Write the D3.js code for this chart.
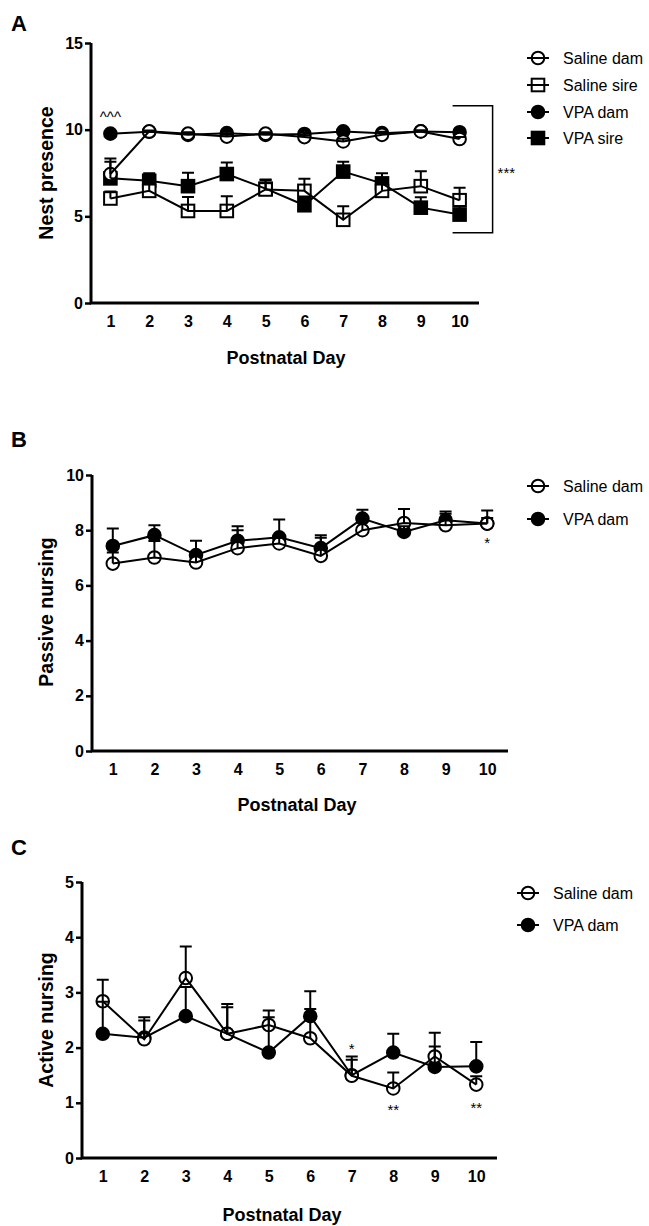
<!DOCTYPE html>
<html>
<head>
<meta charset="utf-8">
<script src="https://cdn.jsdelivr.net/npm/d3@7"></script>
<style>
body { margin: 0; background: #fff; }
text { font-family: Arial, "Liberation Sans", sans-serif; fill: #000; }
</style>
</head>
<body>
<svg id="chart" width="649" height="1226"></svg>
<script>
// ---- data (means and upward SEM) ----
const days = [1, 2, 3, 4, 5, 6, 7, 8, 9, 10];

// A: nest presence
const nestSalineDam     = [7.44, 9.90, 9.77, 9.60, 9.77, 9.57, 9.32, 9.70, 9.90, 9.46];
const nestSalineDamErr  = [0.90, 0.05, 0.08, 0.10, 0.08, 0.10, 0.15, 0.10, 0.05, 0.12];
const nestSalineSire    = [6.03, 6.47, 5.31, 5.31, 6.55, 6.47, 4.80, 6.47, 6.74, 5.93];
const nestSalineSireErr = [0.40, 0.60, 0.80, 0.85, 0.58, 0.70, 0.78, 0.50, 0.86, 0.72];
const nestVpaDam        = [9.77, 9.88, 9.70, 9.80, 9.70, 9.75, 9.90, 9.80, 9.90, 9.85];
const nestVpaDamErr     = [0.08, 0.05, 0.10, 0.08, 0.10, 0.08, 0.05, 0.08, 0.05, 0.06];
const nestVpaSire       = [7.19, 7.05, 6.74, 7.44, 6.60, 5.64, 7.58, 6.90, 5.50, 5.10];
const nestVpaSireErr    = [0.96, 0.43, 0.78, 0.66, 0.50, 0.50, 0.57, 0.58, 0.60, 0.50];

// B: passive nursing
const passSalineDam    = [6.79, 7.01, 6.83, 7.35, 7.52, 7.07, 8.00, 8.26, 8.18, 8.24];
const passSalineDamErr = [0.40, 0.60, 0.30, 0.65, 0.20, 0.66, 0.30, 0.51, 0.42, 0.47];
const passVpaDam       = [7.43, 7.82, 7.10, 7.62, 7.74, 7.35, 8.42, 7.94, 8.36, 8.24];
const passVpaDamErr    = [0.63, 0.36, 0.52, 0.52, 0.65, 0.47, 0.32, 0.20, 0.32, 0.20];

// C: active nursing
const actSalineDam    = [2.84, 2.15, 3.26, 2.25, 2.41, 2.17, 1.49, 1.26, 1.84, 1.33];
const actSalineDamErr = [0.39, 0.40, 0.57, 0.54, 0.26, 0.53, 0.35, 0.29, 0.43, 0.15];
const actVpaDam       = [2.25, 2.18, 2.57, 2.25, 1.91, 2.57, 1.50, 1.91, 1.65, 1.66];
const actVpaDamErr    = [0.58, 0.31, 0.53, 0.48, 0.64, 0.45, 0.28, 0.34, 0.37, 0.44];

// tick values
const nestTicks = [0, 5, 10, 15];
const passTicks = [0, 2, 4, 6, 8, 10];
const actTicks  = [0, 1, 2, 3, 4, 5];

// significance marks (day, value at text baseline)
const nestMarks = [{ day: 1, value: 10.45, text: '^^^' }];
const passMarks = [{ day: 10, value: 7.36, text: '*' }];
const actMarks  = [
	{ day: 7, value: 1.88, text: '*' },
	{ day: 8, value: 0.78, text: '**' },
	{ day: 10, value: 0.815, text: '**' }
];
const nestBracket = { from: 11.38, to: 4.06, text: '***' };

// series definitions
const salineDam  = { name: 'Saline dam', shape: 'circle', filled: false };
const salineSire = { name: 'Saline sire', shape: 'square', filled: false };
const vpaDam     = { name: 'VPA dam', shape: 'circle', filled: true };
const vpaSire    = { name: 'VPA sire', shape: 'square', filled: true };

const svg = d3.select('#chart');

const panels = [
	{
		letter: 'A', letterY: 31,
		left: 91, right: 479, top: 43, bottom: 303, ymax: 15, yticks: nestTicks,
		ytitle: 'Nest presence', ytitleY: 173,
		xtitleX: 286, xtitleY: 364,
		legendX: 538, legendY: [58, 85, 112, 138],
		series: [
			Object.assign({ values: nestSalineDam, errs: nestSalineDamErr }, salineDam),
			Object.assign({ values: nestSalineSire, errs: nestSalineSireErr }, salineSire),
			Object.assign({ values: nestVpaDam, errs: nestVpaDamErr }, vpaDam),
			Object.assign({ values: nestVpaSire, errs: nestVpaSireErr }, vpaSire)
		],
		marks: nestMarks, bracket: nestBracket
	},
	{
		letter: 'B', letterY: 447,
		left: 92, right: 508, top: 475, bottom: 751, ymax: 10, yticks: passTicks,
		ytitle: 'Passive nursing', ytitleY: 612,
		xtitleX: 297, xtitleY: 811,
		legendX: 538, legendY: [486, 519],
		series: [
			Object.assign({ values: passSalineDam, errs: passSalineDamErr }, salineDam),
			Object.assign({ values: passVpaDam, errs: passVpaDamErr }, vpaDam)
		],
		marks: passMarks
	},
	{
		letter: 'C', letterY: 855,
		left: 82, right: 497, top: 882, bottom: 1158, ymax: 5, yticks: actTicks,
		ytitle: 'Active nursing', ytitleY: 1020,
		xtitleX: 282, xtitleY: 1221,
		legendX: 528, legendY: [893, 925],
		series: [
			Object.assign({ values: actSalineDam, errs: actSalineDamErr }, salineDam),
			Object.assign({ values: actVpaDam, errs: actVpaDamErr }, vpaDam)
		],
		marks: actMarks
	}
];

const R = 6.3; // marker half size

function drawMarker(sel, s) {
	let m;
	if (s.shape === 'circle') {
		m = sel.append('circle').attr('r', R);
	} else {
		m = sel.append('rect')
			.attr('x', -R).attr('y', -R)
			.attr('width', 2 * R).attr('height', 2 * R);
	}
	m.attr('fill', s.filled ? '#000' : '#fff')
		.attr('stroke', '#000')
		.attr('stroke-width', 2);
}

function drawPanel(p) {
	const g = svg.append('g');

	const xScale = d3.scaleLinear().domain([0.5, 10.5]).range([p.left, p.right]);
	const yScale = d3.scaleLinear().domain([0, p.ymax]).range([p.bottom, p.top]);

	// panel letter
	g.append('text')
		.attr('x', 11).attr('y', p.letterY)
		.style('font-size', '22px').style('font-weight', 'bold')
		.text(p.letter);

	// y axis ticks + labels
	const yAxis = d3.axisLeft(yScale)
		.tickValues(p.yticks)
		.tickSize(6)
		.tickPadding(2)
		.tickFormat(d3.format('d'));
	const yg = g.append('g')
		.attr('transform', `translate(${p.left},0)`)
		.call(yAxis);
	yg.select('.domain').remove();
	yg.selectAll('.tick line').attr('stroke', '#000').attr('stroke-width', 2.5);
	yg.selectAll('.tick text')
		.style('font-size', '16px').style('font-weight', 'bold')
		.style('font-family', 'Arial, "Liberation Sans", sans-serif')
		.attr('fill', '#000');

	// x axis labels (no tick marks)
	const xAxis = d3.axisBottom(xScale)
		.tickValues(days)
		.tickSize(0)
		.tickPadding(13)
		.tickFormat(d3.format('d'));
	const xg = g.append('g')
		.attr('transform', `translate(0,${p.bottom})`)
		.call(xAxis);
	xg.select('.domain').remove();
	xg.selectAll('.tick text')
		.style('font-size', '16px').style('font-weight', 'bold')
		.style('font-family', 'Arial, "Liberation Sans", sans-serif')
		.attr('fill', '#000');

	// axis lines
	g.append('path')
		.attr('d', `M${p.left},${yScale(p.ymax)}V${p.bottom}H${p.right}`)
		.attr('fill', 'none').attr('stroke', '#000').attr('stroke-width', 3)
		.attr('stroke-linejoin', 'miter');

	// titles
	g.append('text')
		.attr('transform', `translate(53,${p.ytitleY}) rotate(-90)`)
		.style('text-anchor', 'middle')
		.style('font-size', '19.5px').style('font-weight', 'bold')
		.text(p.ytitle);

	g.append('text')
		.attr('x', p.xtitleX).attr('y', p.xtitleY)
		.style('text-anchor', 'middle')
		.style('font-size', '18px').style('font-weight', 'bold')
		.text(p.xtitle || 'Postnatal Day');

	// markers first (last series at the back), lines and error bars on top
	const markLayer = g.append('g');
	const lineLayer = g.append('g');

	p.series.slice().reverse().forEach((s) => {
		markLayer.append('g')
			.selectAll('g')
			.data(days)
			.enter()
			.append('g')
			.attr('transform', (d, i) => `translate(${xScale(d)},${yScale(s.values[i])})`)
			.each(function () { drawMarker(d3.select(this), s); });
	});

	const line = d3.line()
		.x((d) => xScale(d[0]))
		.y((d) => yScale(d[1]));

	p.series.forEach((s) => {
		lineLayer.append('path')
			.datum(days.map((d, i) => [d, s.values[i]]))
			.attr('d', line)
			.attr('fill', 'none').attr('stroke', '#000').attr('stroke-width', 2);

		lineLayer.append('g')
			.selectAll('path')
			.data(days)
			.enter()
			.append('path')
			.attr('d', (d, i) => {
				const cx = xScale(d);
				const y0 = yScale(s.values[i]);
				const y1 = yScale(s.values[i] + s.errs[i]);
				return `M${cx},${y0}V${y1}M${cx - 6},${y1}H${cx + 6}`;
			})
			.attr('fill', 'none').attr('stroke', '#000').attr('stroke-width', 2);
	});

	// significance marks
	g.selectAll('.sig')
		.data(p.marks)
		.enter()
		.append('text')
		.attr('class', 'sig')
		.attr('x', (d) => xScale(d.day))
		.attr('y', (d) => yScale(d.value))
		.style('text-anchor', 'middle')
		.style('font-size', '15px')
		.text((d) => d.text);

	if (p.bracket) {
		const bx = xScale(10) + 33;
		const bx0 = xScale(10) - 7;
		const b0 = yScale(p.bracket.from);
		const b1 = yScale(p.bracket.to);
		g.append('path')
			.attr('d', `M${bx0},${b0}H${bx}V${b1}H${bx0}`)
			.attr('fill', 'none').attr('stroke', '#000').attr('stroke-width', 1.5);
		g.append('text')
			.attr('x', bx + 5).attr('y', (b0 + b1) / 2 + 9)
			.style('font-size', '15px')
			.text(p.bracket.text);
	}

	// legend
	const lg = g.append('g');
	p.series.forEach((s, i) => {
		const item = lg.append('g')
			.attr('transform', `translate(${p.legendX},${p.legendY[i]})`);
		drawMarker(item, s);
		item.append('path')
			.attr('d', 'M-11,0H11')
			.attr('stroke', '#000').attr('stroke-width', 2);
		item.append('text')
			.attr('x', 25).attr('y', 5.5)
			.style('font-size', '16px')
			.text(s.name);
	});
}

panels.forEach(drawPanel);
</script>
</body>
</html>
